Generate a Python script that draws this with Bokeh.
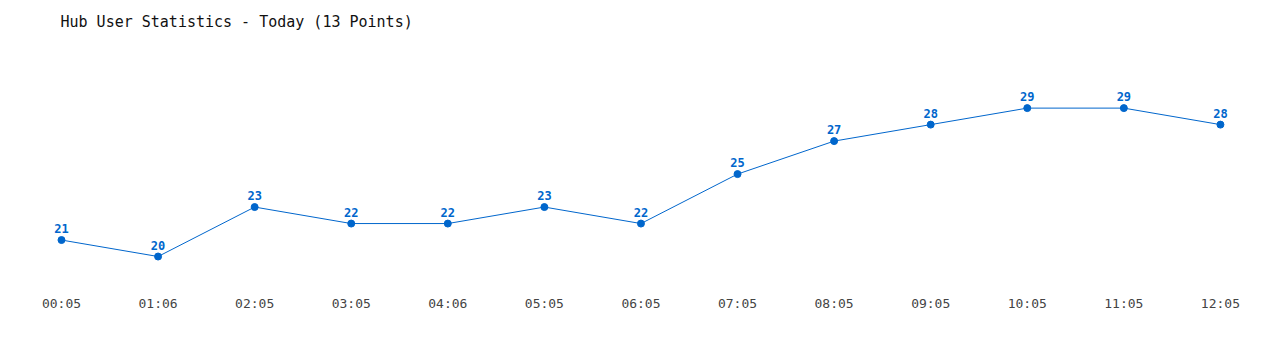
from bokeh.plotting import figure
from bokeh.models import FixedTicker, ColumnDataSource, Range1d
from bokeh.embed import file_html
from bokeh.resources import INLINE
from bokeh.core.properties import value

times = ["00:05", "01:06", "02:05", "03:05", "04:06", "05:05", "06:05",
         "07:05", "08:05", "09:05", "10:05", "11:05", "12:05"]
users = [21, 20, 23, 22, 22, 23, 22, 25, 27, 28, 29, 29, 28]
idx = list(range(len(times)))

BLUE = "#0066cc"
MONO = "DejaVu Sans Mono"

src = ColumnDataSource(dict(x=idx, y=users, lbl=[str(u) for u in users]))

p = figure(width=1280, height=350, output_backend="svg", toolbar_location=None,
           x_range=Range1d(-0.6316, 12.622), y_range=Range1d(17.94, 33.04),
           min_border_left=0, min_border_right=0, min_border_top=40, min_border_bottom=60,
           title="Hub User Statistics - Today (13 Points)")
p.title.text_font = MONO
p.title.text_font_size = "15px"
p.title.text_font_style = "normal"
p.title.text_color = "#111111"
p.title.offset = 60
p.title.standoff = 21
p.outline_line_color = None
p.grid.visible = False
p.yaxis.visible = False
p.xaxis.ticker = FixedTicker(ticks=idx)
p.xaxis.major_label_overrides = {i: t for i, t in zip(idx, times)}
p.xaxis.axis_line_color = None
p.xaxis.major_tick_line_color = None
p.xaxis.major_tick_out = 0
p.xaxis.major_tick_in = 0
p.xaxis.minor_tick_line_color = None
p.xaxis.major_label_text_font = MONO
p.xaxis.major_label_text_font_size = "13px"
p.xaxis.major_label_text_color = "#444444"
p.xaxis.major_label_standoff = 5

p.line("x", "y", source=src, line_color=BLUE, line_width=1)
p.scatter("x", "y", source=src, size=7, fill_color=BLUE, line_color=BLUE)
p.text("x", "y", text="lbl", source=src, text_font=value(MONO), text_font_size="12px",
       text_font_style="bold", text_color=BLUE, text_align="center",
       text_baseline="bottom", y_offset=-7)

open("out.html", "w").write(file_html(p, INLINE))
